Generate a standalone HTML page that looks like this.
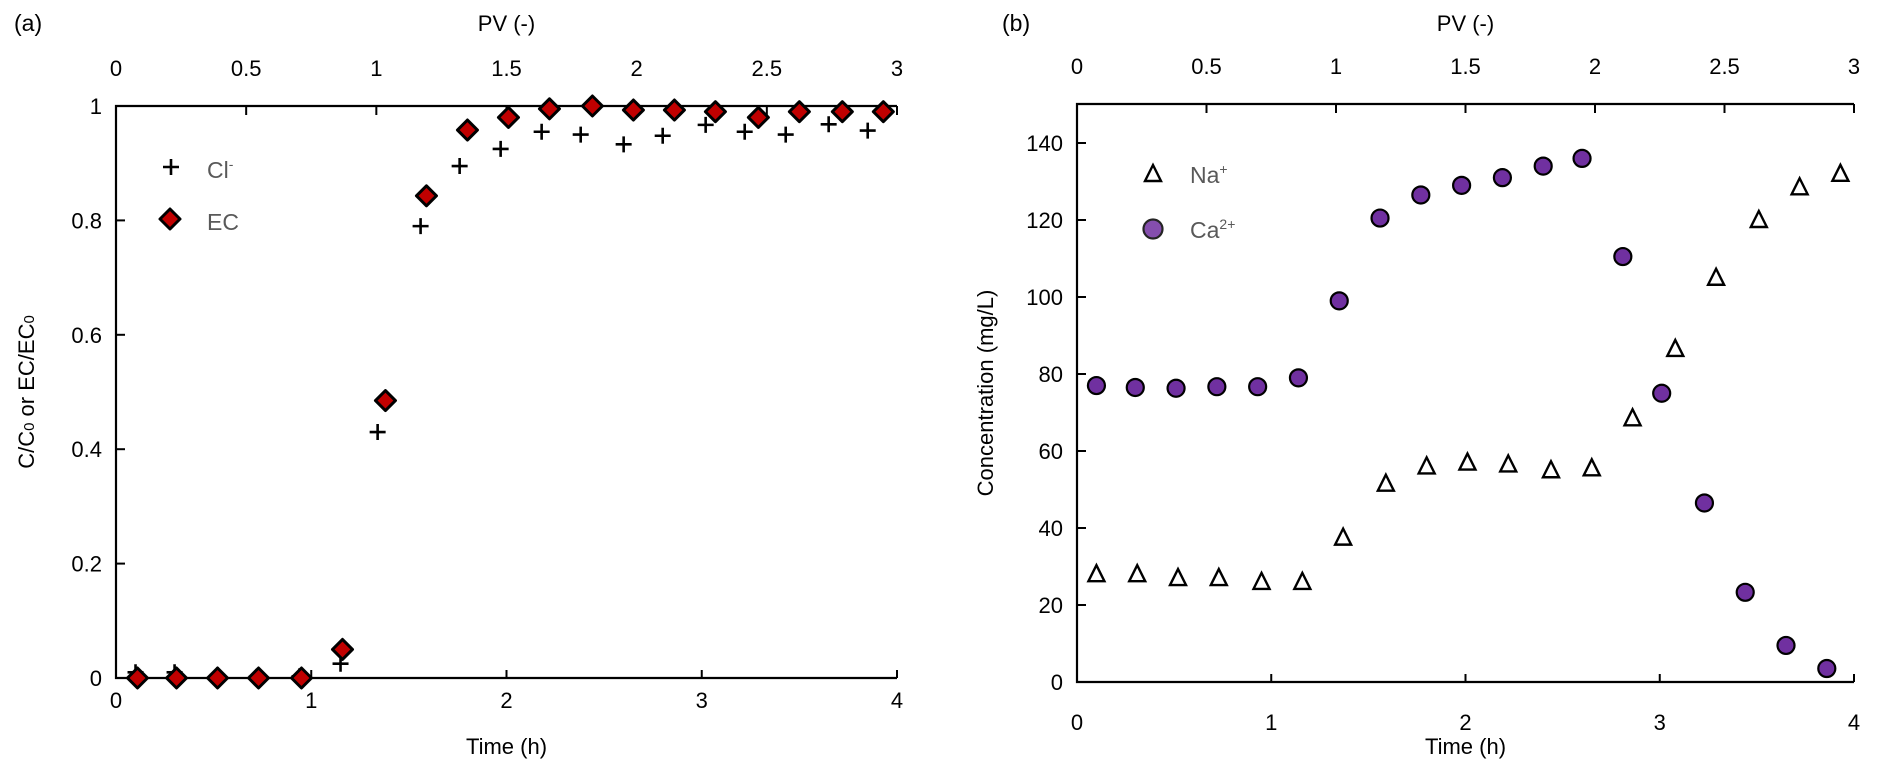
<!DOCTYPE html>
<html><head><meta charset="utf-8"><style>
html,body{margin:0;padding:0;background:#fff;}
svg{display:block;font-family:"Liberation Sans",sans-serif;}
</style></head><body>
<svg id="chart" width="1888" height="783" viewBox="0 0 1888 783" xmlns="http://www.w3.org/2000/svg"></svg>
<script>
const clTime=[0.1,0.3,0.52,0.72,0.94,1.15,1.34,1.56,1.76,1.97,2.18,2.38,2.6,2.8,3.02,3.22,3.43,3.65,3.85];
const clVal=[0.01,0.01,0.005,0.002,0.003,0.025,0.43,0.79,0.895,0.925,0.955,0.95,0.933,0.948,0.967,0.955,0.95,0.968,0.957];
const ecTime=[0.11,0.31,0.52,0.73,0.95,1.16,1.38,1.59,1.8,2.01,2.22,2.44,2.65,2.86,3.07,3.29,3.5,3.72,3.93];
const ecVal=[0,0,0,0,0,0.05,0.485,0.843,0.958,0.98,0.995,1.0,0.993,0.993,0.99,0.98,0.99,0.99,0.99];
const naTime=[0.1,0.31,0.52,0.73,0.95,1.16,1.37,1.59,1.8,2.01,2.22,2.44,2.65,2.86,3.08,3.29,3.51,3.72,3.93];
const naVal=[28,28,27,27,26,26,37.5,51.5,56,57,56.5,55,55.5,68.5,86.5,105,120,128.5,132];
const caTime=[0.1,0.3,0.51,0.72,0.93,1.14,1.35,1.56,1.77,1.98,2.19,2.4,2.6,2.81,3.01,3.23,3.44,3.65,3.86];
const caVal=[77,76.5,76.3,76.7,76.7,79,99,120.5,126.5,129,131,134,136,110.5,75,46.5,23.3,9.5,3.5];
const timeTicks=[0,1,2,3,4];
const pvTicks=[0,0.5,1,1.5,2,2.5,3];
const aTicks=[0,0.2,0.4,0.6,0.8,1];
const bTicks=[0,20,40,60,80,100,120,140];

const svg=document.getElementById('chart');
const NS='http://www.w3.org/2000/svg';
function mk(tag,attrs,parent){const e=document.createElementNS(NS,tag);for(const k in attrs)e.setAttribute(k,attrs[k]);(parent||svg).appendChild(e);return e;}
function txt(s,x,y,anchor,size,fill,parent){const t=mk('text',{x:x,y:y,'text-anchor':anchor,'font-size':size,fill:fill||'#000'},parent);t.textContent=s;return t;}

function panel(cfg){
  const g=mk('g',{});
  
  
  const L=cfg.left,R=cfg.right,T=cfg.top,B=cfg.bottom;
  const xs=v=>L+(v/4)*(R-L);
  const ps=v=>L+(v/3)*(R-L);
  const ys=v=>B-(v-cfg.ymin)/(cfg.ymax-cfg.ymin)*(B-cfg.yAt);
  const ax=mk('path',{d:`M${R},${T}H${L}V${B}H${R}`,stroke:'#000','stroke-width':2.2,fill:'none'},g);
  
  
  timeTicks.forEach(v=>{
    mk('line',{x1:xs(v),x2:xs(v),y1:B,y2:B-8,stroke:'#000','stroke-width':2},g);
    const t=txt(String(v),xs(v),B+cfg.xlabOff,'middle',22,'#000',g);
    
    
  });
  pvTicks.forEach(v=>{
    mk('line',{x1:ps(v),x2:ps(v),y1:T,y2:T+9,stroke:'#000','stroke-width':2},g);
    const t=txt(String(v),ps(v),T-30,'middle',22,'#000',g);
    
    
  });
  cfg.yticks.forEach(v=>{
    mk('line',{x1:L,x2:L+9,y1:ys(v),y2:ys(v),stroke:'#000','stroke-width':2},g);
    const t=txt(String(v),L-cfg.ylabOff,ys(v)+8,'end',22,'#000',g);
    
    
  });
  const xt=txt('Time (h)',(L+R)/2,cfg.xtitleY,'middle',22,'#000',g);
  
  
  const pt=txt('PV (-)',(L+R)/2,31,'middle',22,'#000',g);
  
  
  const lt=txt(cfg.label,cfg.labelX,31,'start',23,'#000',g);
  
  
  return {g,xs,ys};
}

// Panel (a)
const A=panel({name:'panel-a',left:116,right:897,top:106,bottom:678,ymin:0,ymax:1,yAt:106,yticks:aTicks,ylabOff:14,label:'(a)',labelX:14,xlabOff:30,xtitleY:754});
const yta=mk('text',{x:0,y:0,'font-size':22,'text-anchor':'middle',transform:'translate(34,392) rotate(-90)'},A.g);


yta.innerHTML='C/C<tspan font-size="15">0</tspan> or EC/EC<tspan font-size="15">0</tspan>';
function plus(x,y,parent){const p=mk('path',{d:`M${x-8},${y}H${x+8}M${x},${y-8}V${y+8}`,stroke:'#000','stroke-width':2.6,fill:'none'},parent);return p;}
function diamond(x,y,parent){return mk('path',{d:`M${x},${y-10}L${x+10},${y}L${x},${y+10}L${x-10},${y}Z`,fill:'#c00000',stroke:'#000','stroke-width':3,'stroke-linejoin':'round'},parent);}
clTime.forEach((t,i)=>{const p=plus(A.xs(t),A.ys(clVal[i]),A.g);

});
ecTime.forEach((t,i)=>{const p=diamond(A.xs(t),A.ys(ecVal[i]),A.g);

});
const lga=mk('g',{},A.g);


plus(171,167,lga);
const c1=mk('text',{x:207,y:178,'font-size':23,fill:'#595959'},lga);c1.innerHTML='Cl<tspan font-size="14" dy="-9">-</tspan>';
diamond(170,219,lga);
txt('EC',207,230,'start',23,'#595959',lga);

// Panel (b)
const Bp=panel({name:'panel-b',left:1077,right:1854,top:104,bottom:682,ymin:0,ymax:140,yAt:143,yticks:bTicks,ylabOff:14,label:'(b)',labelX:1002,xlabOff:48,xtitleY:754});
const ytb=txt('Concentration (mg/L)',0,0,'middle',22,'#000',Bp.g);
ytb.setAttribute('transform','translate(993,393) rotate(-90)');


function tri(x,y,parent){return mk('path',{d:`M${x},${y-9}L${x+8},${y+7}L${x-8},${y+7}Z`,fill:'#fff',stroke:'#000','stroke-width':2.4,'stroke-linejoin':'miter'},parent);}
function circ(x,y,parent){return mk('circle',{cx:x,cy:y,r:8.5,fill:'#7030a0',stroke:'#000','stroke-width':2.2},parent);}
naTime.forEach((t,i)=>{const p=tri(Bp.xs(t),Bp.ys(naVal[i]),Bp.g);

});
caTime.forEach((t,i)=>{const p=circ(Bp.xs(t),Bp.ys(caVal[i]),Bp.g);

});
const lgb=mk('g',{},Bp.g);


tri(1153,174,lgb);
const n1=mk('text',{x:1190,y:183,'font-size':23,fill:'#595959'},lgb);n1.innerHTML='Na<tspan font-size="14" dy="-9">+</tspan>';
mk('circle',{cx:1153,cy:229,r:9.5,fill:'#7030a0',stroke:'#000','stroke-width':2.2,opacity:0.85},lgb);
const ca1=mk('text',{x:1190,y:238,'font-size':23,fill:'#595959'},lgb);ca1.innerHTML='Ca<tspan font-size="14" dy="-9">2+</tspan>';
</script>
</body></html>
